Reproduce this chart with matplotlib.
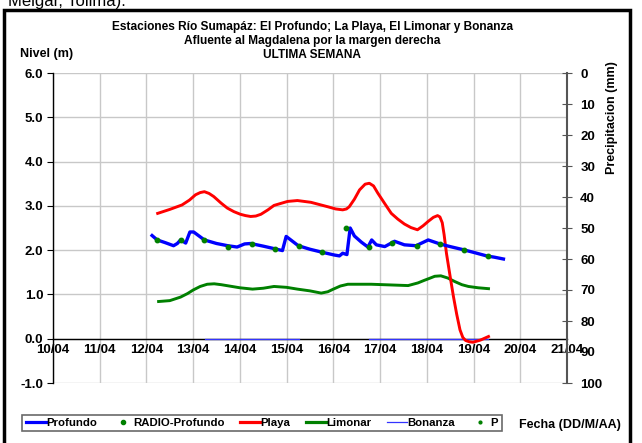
import matplotlib
matplotlib.use("Agg")
import matplotlib.pyplot as plt
from matplotlib.lines import Line2D
from matplotlib.patches import Rectangle

plt.rcParams['font.family'] = ['Liberation Sans', 'DejaVu Sans']
plt.rcParams['font.weight'] = 'bold'

# ---- data (x = day of April, fractional) ----
day_ticks = [10, 11, 12, 13, 14, 15, 16, 17, 18, 19, 20, 21]
day_labels = ["10/04", "11/04", "12/04", "13/04", "14/04", "15/04",
              "16/04", "17/04", "18/04", "19/04", "20/04", "21/04"]

profundo_x = [12.12, 12.23, 12.40, 12.58, 12.66, 12.73, 12.84, 12.93, 13.01,
              13.24, 13.50, 13.74, 13.94, 14.10, 14.23, 14.50, 14.75, 14.91,
              14.99, 15.25, 15.50, 15.77, 16.02, 16.13, 16.20, 16.29, 16.36,
              16.45, 16.60, 16.74, 16.82, 16.92, 17.10, 17.31, 17.52, 17.77,
              18.03, 18.28, 18.50, 18.78, 19.00, 19.28, 19.45, 19.64]
profundo_y = [2.33, 2.23, 2.17, 2.10, 2.15, 2.23, 2.16, 2.41, 2.41,
              2.23, 2.15, 2.10, 2.07, 2.14, 2.15, 2.09, 2.03, 1.99,
              2.31, 2.10, 2.02, 1.95, 1.89, 1.87, 1.93, 1.90, 2.50,
              2.32, 2.18, 2.07, 2.23, 2.12, 2.08, 2.20, 2.12, 2.10,
              2.23, 2.14, 2.08, 2.01, 1.95, 1.87, 1.84, 1.80]

radio_x = [12.23, 12.73, 13.24, 13.74, 14.25, 14.75, 15.26, 15.76, 16.27,
           16.77, 17.26, 17.78, 18.28, 18.80, 19.30]
radio_y = [2.22, 2.22, 2.24, 2.08, 2.14, 2.02, 2.09, 1.95, 2.50,
           2.07, 2.17, 2.10, 2.14, 2.01, 1.87]

playa_x = [12.24, 12.50, 12.76, 12.92, 13.05, 13.15, 13.24, 13.34, 13.44,
           13.60, 13.73, 13.87, 14.01, 14.12, 14.23, 14.34, 14.45, 14.60,
           14.73, 15.02, 15.23, 15.52, 15.88, 16.05, 16.20, 16.28, 16.34,
           16.45, 16.56, 16.68, 16.77, 16.86, 16.95, 17.10, 17.24, 17.38,
           17.52, 17.66, 17.80, 17.92, 18.03, 18.14, 18.23, 18.28, 18.33,
           18.37, 18.42, 18.50, 18.57, 18.64, 18.71, 18.77, 18.83, 18.91,
           18.99, 19.15, 19.32]
playa_y = [2.83, 2.92, 3.02, 3.13, 3.25, 3.30, 3.32, 3.28, 3.21,
           3.06, 2.95, 2.87, 2.81, 2.78, 2.76, 2.77, 2.81, 2.91,
           3.01, 3.10, 3.12, 3.08, 2.98, 2.93, 2.91, 2.93, 2.98,
           3.15, 3.36, 3.49, 3.51, 3.45, 3.29, 3.05, 2.83, 2.70,
           2.59, 2.51, 2.46, 2.55, 2.65, 2.74, 2.78, 2.75, 2.62,
           2.35, 1.93, 1.40, 0.95, 0.55, 0.20, 0.03, -0.04, -0.07,
           -0.08, -0.03, 0.05]

limonar_x = [12.26, 12.50, 12.73, 12.88, 13.00, 13.15, 13.30, 13.45, 13.60,
             14.00, 14.27, 14.50, 14.73, 15.00, 15.23, 15.50, 15.74, 15.88,
             16.00, 16.15, 16.31, 16.81, 17.60, 17.81, 17.95, 18.05, 18.17,
             18.30, 18.45, 18.60, 18.75, 18.89, 19.10, 19.32]
limonar_y = [0.84, 0.86, 0.94, 1.02, 1.10, 1.18, 1.23, 1.24, 1.22,
             1.15, 1.12, 1.14, 1.18, 1.16, 1.12, 1.08, 1.03, 1.06,
             1.12, 1.19, 1.23, 1.23, 1.20, 1.26, 1.32, 1.36, 1.41,
             1.42, 1.37, 1.29, 1.22, 1.18, 1.15, 1.13]

bonanza_x = [13.25, 15.27, None, 16.77, 19.30]
bonanza_y = [0.0, 0.0, None, 0.0, 0.0]

precip_ticks = [0, 10, 20, 30, 40, 50, 60, 70, 80, 90, 100]
nivel_ticks = [-1.0, 0.0, 1.0, 2.0, 3.0, 4.0, 5.0, 6.0]

W, H = 642, 443
fig = plt.figure(figsize=(W / 100, H / 100), dpi=100)
fig.patch.set_facecolor('white')

x0, x1 = 53, 567
yt, yb = 73, 383
ax = fig.add_axes([x0 / W, 1 - yb / H, (x1 - x0) / W, (yb - yt) / H])
ax.set_xlim(10, 21)
ax.set_ylim(-1, 6)

GRID = '#c8c8c8'
ax.set_xticks(day_ticks)
ax.set_xticklabels(day_labels)
ax.set_yticks(nivel_ticks)
ax.set_yticklabels([f"{v:.1f}" for v in nivel_ticks])
ax.grid(True, color=GRID, lw=1.0)
ax.set_axisbelow(True)
for s in ['top', 'right']:
    ax.spines[s].set_visible(False)
ax.spines['left'].set_color('black')
ax.spines['left'].set_linewidth(1.0)
ax.spines['bottom'].set_position(('data', 0))
ax.spines['bottom'].set_color('black')
ax.spines['bottom'].set_linewidth(1.0)
ax.tick_params(axis='x', length=0, pad=4, labelsize=9.5)
ax.tick_params(axis='y', length=4, direction='out', pad=3, labelsize=9.5)
ax.tick_params(axis='both', labelcolor='black')
for lab in ax.get_xticklabels() + ax.get_yticklabels():
    lab.set_fontweight('bold')

# series
ax.plot(bonanza_x, bonanza_y, color='#3333ff', lw=0.9, zorder=3)
ax.plot(limonar_x, limonar_y, color='#008000', lw=2.1, zorder=4,
        solid_joinstyle='round')
ax.plot(playa_x, playa_y, color='#ff0000', lw=2.1, zorder=5,
        solid_joinstyle='round')
ax.plot(profundo_x, profundo_y, color='#0000ff', lw=2.4, zorder=6,
        solid_joinstyle='round')
ax.plot(radio_x, radio_y, ls='none', marker='o', ms=3.2, color='#008000',
        zorder=7)

# right axis (precipitation, inverted)
ax2 = ax.twinx()
ax2.set_ylim(100, 0)
ax2.set_yticks(precip_ticks)
ax2.set_yticklabels([str(v) for v in precip_ticks])
for s in ['top', 'left', 'bottom']:
    ax2.spines[s].set_visible(False)
ax2.spines['right'].set_color('#555555')
ax2.spines['right'].set_linewidth(1.5)
ax2.tick_params(axis='y', direction='inout', length=7, color='#555555',
                labelsize=9.5, pad=6)
for lab in ax2.get_yticklabels():
    lab.set_fontweight('bold')

# titles and labels
TFS = 8.6
fig.text(312 / W, 1 - 27 / H, "Estaciones Río Sumapáz: El Profundo; La Playa, El Limonar y Bonanza",
         ha='center', va='center', fontsize=TFS, fontweight='bold')
fig.text(312 / W, 1 - 41 / H, "Afluente al Magdalena por la margen derecha",
         ha='center', va='center', fontsize=TFS, fontweight='bold')
fig.text(312 / W, 1 - 55 / H, "ULTIMA SEMANA",
         ha='center', va='center', fontsize=TFS, fontweight='bold')
fig.text(20 / W, 1 - 54 / H, "Nivel (m)", ha='left', va='center',
         fontsize=9, fontweight='bold')
fig.text(612 / W, 1 - 118 / H, "Precipitacion (mm)", ha='center',
         va='center', rotation=90, fontsize=9, fontweight='bold')
fig.text(570 / W, 1 - 425 / H, "Fecha (DD/M/AA)", ha='center', va='center',
         fontsize=9, fontweight='bold')

# text of the surrounding document, cut at the top
fig.text(8 / W, 1 - 9 / H, "Melgar, Tolima).", ha='left', va='bottom',
         fontsize=12, fontweight='normal')

# legend
handles = [
    Line2D([], [], color='#0000ff', lw=2.3),
    Line2D([], [], color='#008000', ls='none', marker='o', ms=3),
    Line2D([], [], color='#ff0000', lw=2.3),
    Line2D([], [], color='#008000', lw=2.3),
    Line2D([], [], color='#3333ff', lw=0.9),
    Line2D([], [], color='#008000', ls='none', marker='o', ms=2),
]
labels = ["Profundo", "RADIO-Profundo", "Playa", "Limonar", "Bonanza", "P"]
leg = fig.legend(handles, labels, ncol=6, loc='center',
                 bbox_to_anchor=(262 / W, 1 - 423 / H),
                 frameon=True, fancybox=False, fontsize=8.2,
                 handlelength=1.75, handletextpad=0.05, columnspacing=1.35,
                 borderpad=0.3, borderaxespad=0, edgecolor='#444444')
leg.get_frame().set_linewidth(1.2)
for t in leg.get_texts():
    t.set_fontweight('bold')

# outer frame of the chart
fig.add_artist(Rectangle((4 / W, -0.05), (630 - 4) / W, 1 - 10 / H + 0.05,
                         transform=fig.transFigure, fill=False,
                         edgecolor='black', lw=2.5, clip_on=False))

fig.savefig("out.png", dpi=100)
